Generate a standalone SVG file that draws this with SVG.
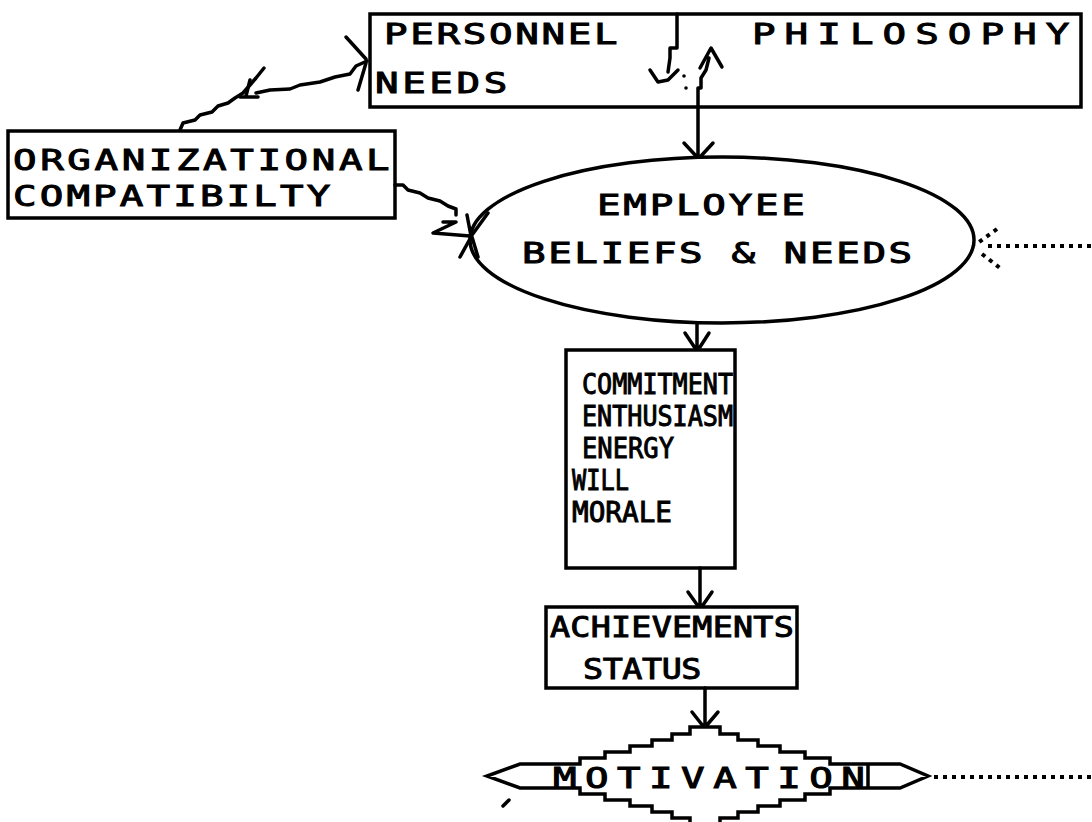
<svg xmlns="http://www.w3.org/2000/svg" width="1092" height="822" viewBox="0 0 1092 822">
<style>
.b{fill:none;stroke:#000;stroke-width:3.5;stroke-linejoin:miter}
.t{font-family:"DejaVu Sans Mono","Liberation Mono",monospace;font-weight:normal;font-size:29px;fill:#000;stroke:#000;stroke-width:1}
.c{fill:none;stroke:#000;stroke-width:3.5;stroke-linecap:round;stroke-linejoin:round}
.d{fill:none;stroke:#000;stroke-width:4;stroke-linecap:butt;stroke-dasharray:4 5}
</style>
<rect width="1092" height="822" fill="#fff"/>
<g id="personnel-needs">
<path class="b" d="M677,14 H370 V107 H698"/>
<text class="t" transform="translate(384,44) scale(1.35,1)" textLength="173" lengthAdjust="spacing">PERSONNEL</text>
<text class="t" transform="translate(375,93) scale(1.35,1)" textLength="98" lengthAdjust="spacing">NEEDS</text>
</g>
<g id="philosophy">
<path class="b" d="M677,14 H1081 V107 H698"/>
<text class="t" transform="translate(752,44) scale(1.35,1)" textLength="235" lengthAdjust="spacing">PHILOSOPHY</text>
</g>
<g id="organizational-compatibility">
<rect class="b" x="8" y="131" width="387" height="87"/>
<text class="t" transform="translate(13,170) scale(1.35,1)" textLength="279" lengthAdjust="spacing">ORGANIZATIONAL</text>
<text class="t" transform="translate(13,206) scale(1.35,1)" textLength="235" lengthAdjust="spacing">COMPATIBILTY</text>
</g>
<g id="employee-beliefs">
<ellipse class="b" cx="722" cy="240" rx="252" ry="83"/>
<text class="t" transform="translate(597,215) scale(1.35,1)" textLength="154" lengthAdjust="spacing">EMPLOYEE</text>
<text class="t" transform="translate(522,263) scale(1.35,1)" textLength="289" lengthAdjust="spacing">BELIEFS &amp; NEEDS</text>
</g>
<g id="commitment">
<rect class="b" x="566" y="350" width="169" height="218"/>
<text class="t" x="582" y="394" textLength="151" lengthAdjust="spacingAndGlyphs">COMMITMENT</text>
<text class="t" x="582" y="426" textLength="151" lengthAdjust="spacingAndGlyphs">ENTHUSIASM</text>
<text class="t" x="582" y="458" textLength="92" lengthAdjust="spacingAndGlyphs">ENERGY</text>
<text class="t" x="572" y="490" textLength="57" lengthAdjust="spacingAndGlyphs">WILL</text>
<text class="t" x="572" y="522" textLength="100" lengthAdjust="spacingAndGlyphs">MORALE</text>
</g>
<g id="achievements">
<rect class="b" x="546" y="607" width="251" height="81"/>
<text class="t" transform="translate(550,637) scale(1.15,1)" textLength="212" lengthAdjust="spacing">ACHIEVEMENTS</text>
<text class="t" transform="translate(583,679) scale(1.15,1)" textLength="103" lengthAdjust="spacing">STATUS</text>
</g>
<g id="motivation">
<path class="b" d="M555,764 H580 V758 H605 V752 H630 V746 H652 V740 H672 V734 H690 V727 H720 V734 H738 V740 H758 V746 H780 V752 H805 V758 H830 V764 H900 L928,776 L900,788 H830 V794 H805 V800 H780 V806 H758 V812 H738 V818 H720 V825 M690,825 V818 H672 V812 H652 V806 H630 V800 H605 V794 H580 V788 H520 L487,776 L520,764 H555"/>
<path class="b" d="M868,764 V788"/>
<text class="t" transform="translate(553,788) scale(1.35,1)" textLength="231" lengthAdjust="spacing">MOTIVATION</text>
</g>
<g id="connectors">
<path class="c" d="M180,130 L183,123 L195,120 L200,115 L212,112 L218,106 L228,103 L235,98 L243,93 L250,85 L256,78 L264,68"/>
<path class="c" d="M256,93 L270,90 L290,89 L300,85 L320,82 L335,77 L350,74 L356,66 L367,61"/>
<path class="c" d="M250,80 L246,96 M240,97 H258"/>
<path class="c" d="M346,37 L366,59 M366,63 L358,90"/>
<path class="c" d="M395,185 H403 L408,190 L420,193 L428,198 L440,201 L448,206 L456,209 V215"/>
<path class="c" d="M443,222 H456 L433,233 L470,236"/>
<path class="c" d="M471,236 L467,215 M472,235 L488,213 M471,237 L460,257 M472,237 L478,257"/>
<path class="c" d="M698,107 V157 M684,143 L697,157 M713,143 L701,156"/>
<path class="c" d="M697,323 V349 M685,333 L695,348 M709,333 L700,347"/>
<path class="c" d="M700,568 V606 M688,592 L698,606 M712,592 L703,605"/>
<path class="c" d="M705,688 V726 M692,712 L703,726 M718,712 L707,725"/>
<path class="c" d="M677,14 V48 H670 V58 L668,72 M650,70 L658,82 L668,80 L678,70"/>
<path class="c" d="M698,107 V88 H701 V78 L706,70 L709,58 M700,68 L711,48 L722,67"/>
<circle cx="684" cy="76" r="1.8"/>
<circle cx="686" cy="88" r="1.8"/>
<path class="d" d="M988,246 H1092"/>
<path class="d" d="M997,229 L975,245 M982,254 L1000,268"/>
<path class="d" d="M934,777 H1092"/>
<path class="c" d="M503,806 L509,800" stroke-width="2"/>
</g>
</svg>
